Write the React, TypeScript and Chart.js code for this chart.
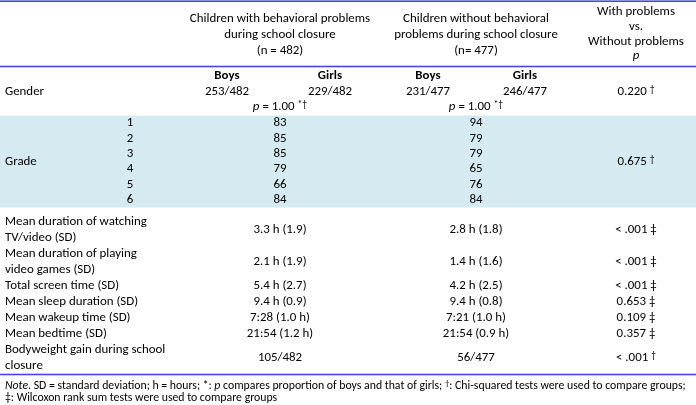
import React, { useEffect, useRef } from "react";
import { Chart, registerables } from "chart.js";

Chart.register(...registerables);

// ---------- table content ----------
const withHeader = ["Children with behavioral problems", "during school closure", "(n = 482)"];
const withoutHeader = ["Children without behavioral", "problems during school closure", "(n= 477)"];
const compareHeader = ["With problems", "vs.", "Without problems"];
const compareHeaderP = "p";

const sexLabels = ["Boys", "Girls"];
const genderWith = ["253/482", "229/482"];
const genderWithout = ["231/477", "246/477"];
const genderWithinP = "1.00";
const genderBetweenP = "0.220";

const gradeLevels = ["1", "2", "3", "4", "5", "6"];
const gradeWith = [83, 85, 85, 79, 66, 84];
const gradeWithout = [94, 79, 79, 65, 76, 84];
const gradeP = "0.675";

const measureLabels = [
  ["Mean duration of watching", "TV/video (SD)"],
  ["Mean duration of playing", "video games (SD)"],
  ["Total screen time (SD)"],
  ["Mean sleep duration (SD)"],
  ["Mean wakeup time (SD)"],
  ["Mean bedtime (SD)"],
  ["Bodyweight gain during school", "closure"],
];
const measureWith = ["3.3 h (1.9)", "2.1 h (1.9)", "5.4 h (2.7)", "9.4 h (0.9)", "7:28 (1.0 h)", "21:54 (1.2 h)", "105/482"];
const measureWithout = ["2.8 h (1.8)", "1.4 h (1.6)", "4.2 h (2.5)", "9.4 h (0.8)", "7:21 (1.0 h)", "21:54 (0.9 h)", "56/477"];
const measureP = ["< .001", "< .001", "< .001", "0.653", "0.109", "0.357", "< .001"];
const measureTest = ["‡", "‡", "‡", "‡", "‡", "‡", "†"];

// ---------- layout & style ----------
const FONT = 'Carlito, Lato, "Open Sans", "Liberation Sans", sans-serif';
const BLUE = "#4646d8";
const SHADE = "#d5ebf1";
const TEXT = "#000000";
const X = { label: 5, grade: 130, col1: 280, boys1: 227, girls1: 330, col2: 476, boys2: 428, girls2: 525, col3: 636 };
const HEAD_L = [19, 35, 51];
const HEAD_R = [12, 27, 42, 56];
const G = { bold: 76, count: 92, p: 107 };
const GRADE_START = 123;
const GRADE_STEP = 15.4;
const SHADE_Y = [115.5, 207.5];
const BODY_START = 222;
const BODY_STEP = 16;
const LINES = [1.2, 66.5, 374.5];
const NOTE_Y = [386, 398];

type Seg = { t: string; i?: boolean; b?: boolean; sup?: boolean };

const tablePlugin = {
  id: "tablePlugin",
  afterDraw(chart: any) {
    const ctx: CanvasRenderingContext2D = chart.ctx;
    const xs = chart.scales.x;
    const ys = chart.scales.y;
    const px = (v: number) => xs.getPixelForValue(v);
    const py = (v: number) => ys.getPixelForValue(v);

    const fontOf = (size: number, s: Seg) =>
      `${s.i ? "italic " : ""}${s.b ? "bold " : ""}${s.sup ? size * 0.75 : size}px ${FONT}`;

    // fit font size so the label column matches the reference width
    ctx.font = `100px ${FONT}`;
    const base = (100 * 142) / ctx.measureText("Mean duration of watching").width;
    const noteRef = "Note. SD = standard deviation; h = hours; *: p compares proportion of boys and that of girls; †: Chi-squared tests were used to compare groups;";
    const noteSize = (100 * 683) / ctx.measureText(noteRef).width;

    const draw = (segs: Seg[], x: number, y: number, align: "left" | "center", size = base) => {
      let total = 0;
      for (const s of segs) {
        ctx.font = fontOf(size, s);
        total += ctx.measureText(s.t).width;
      }
      let cx = align === "center" ? px(x) - total / 2 : px(x);
      ctx.textBaseline = "middle";
      ctx.textAlign = "left";
      ctx.fillStyle = TEXT;
      for (const s of segs) {
        ctx.font = fontOf(size, s);
        ctx.fillText(s.t, cx, py(y) + (s.sup ? -size * 0.18 : 0));
        cx += ctx.measureText(s.t).width;
      }
    };
    const txt = (t: string, x: number, y: number, align: "left" | "center" = "center") => draw([{ t }], x, y, align);

    ctx.save();
    // shading of grade block
    ctx.fillStyle = SHADE;
    ctx.fillRect(px(0), py(SHADE_Y[0]), px(696) - px(0), py(SHADE_Y[1]) - py(SHADE_Y[0]));

    // rules
    ctx.fillStyle = BLUE;
    for (const l of LINES) ctx.fillRect(px(0), py(l) - 0.8, px(696) - px(0), 1.6);

    // header
    withHeader.forEach((t, k) => txt(t, X.col1, HEAD_L[k]));
    withoutHeader.forEach((t, k) => txt(t, X.col2, HEAD_L[k]));
    compareHeader.forEach((t, k) => txt(t, X.col3, HEAD_R[k]));
    draw([{ t: compareHeaderP, i: true }], X.col3, HEAD_R[3], "center");

    // gender
    txt("Gender", X.label, G.count, "left");
    draw([{ t: sexLabels[0], b: true }], X.boys1, G.bold, "center");
    draw([{ t: sexLabels[1], b: true }], X.girls1, G.bold, "center");
    draw([{ t: sexLabels[0], b: true }], X.boys2, G.bold, "center");
    draw([{ t: sexLabels[1], b: true }], X.girls2, G.bold, "center");
    txt(genderWith[0], X.boys1, G.count);
    txt(genderWith[1], X.girls1, G.count);
    txt(genderWithout[0], X.boys2, G.count);
    txt(genderWithout[1], X.girls2, G.count);
    const pSeg: Seg[] = [{ t: "p", i: true }, { t: ` = ${genderWithinP} ` }, { t: "*†", sup: true }];
    draw(pSeg, X.col1, G.p, "center");
    draw(pSeg, X.col2, G.p, "center");
    draw([{ t: genderBetweenP + " " }, { t: "†", sup: true }], X.col3, G.count, "center");

    // grade
    const gy = (k: number) => GRADE_START + k * GRADE_STEP;
    txt("Grade", X.label, (gy(0) + gy(gradeLevels.length - 1)) / 2, "left");
    gradeLevels.forEach((g, k) => {
      txt(g, X.grade, gy(k));
      txt(String(gradeWith[k]), X.col1, gy(k));
      txt(String(gradeWithout[k]), X.col2, gy(k));
    });
    draw([{ t: gradeP + " " }, { t: "†", sup: true }], X.col3, (gy(0) + gy(gradeLevels.length - 1)) / 2, "center");

    // measures
    let line = 0;
    measureLabels.forEach((lab, k) => {
      const y0 = BODY_START + line * BODY_STEP;
      lab.forEach((t, j) => txt(t, X.label, y0 + j * BODY_STEP, "left"));
      const yc = y0 + ((lab.length - 1) * BODY_STEP) / 2;
      txt(measureWith[k], X.col1, yc);
      txt(measureWithout[k], X.col2, yc);
      const mark = measureTest[k];
      draw(
        mark === "†" ? [{ t: measureP[k] + " " }, { t: mark, sup: true }] : [{ t: measureP[k] + " " + mark }],
        X.col3,
        yc,
        "center"
      );
      line += lab.length;
    });

    // note
    draw(
      [
        { t: "Note", i: true },
        { t: ". SD = standard deviation; h = hours; *: " },
        { t: "p", i: true },
        { t: " compares proportion of boys and that of girls; " },
        { t: "†", sup: true },
        { t: ": Chi-squared tests were used to compare groups;" },
      ],
      X.label,
      NOTE_Y[0],
      "left",
      noteSize
    );
    draw([{ t: "‡: Wilcoxon rank sum tests were used to compare groups" }], X.label, NOTE_Y[1], "left", noteSize);
    ctx.restore();
  },
};

export default function App() {
  const ref = useRef<HTMLCanvasElement>(null);
  useEffect(() => {
    if (!ref.current) return;
    const chart = new Chart(ref.current, {
      type: "scatter",
      data: { datasets: [{ data: [] }] },
      options: {
        responsive: false,
        maintainAspectRatio: false,
        animation: false,
        layout: { padding: 0 },
        plugins: { legend: { display: false }, tooltip: { enabled: false } },
        scales: {
          x: { type: "linear", min: 0, max: 696, display: false },
          y: { type: "linear", min: 0, max: 405, reverse: true, display: false },
        },
      },
      plugins: [tablePlugin],
    });
    return () => chart.destroy();
  }, []);
  return (
    <div style={{ position: "fixed", left: 0, top: 0, width: 696, height: 405, background: "#fff" }}>
      <canvas ref={ref} width={696} height={405} style={{ display: "block" }} />
    </div>
  );
}
